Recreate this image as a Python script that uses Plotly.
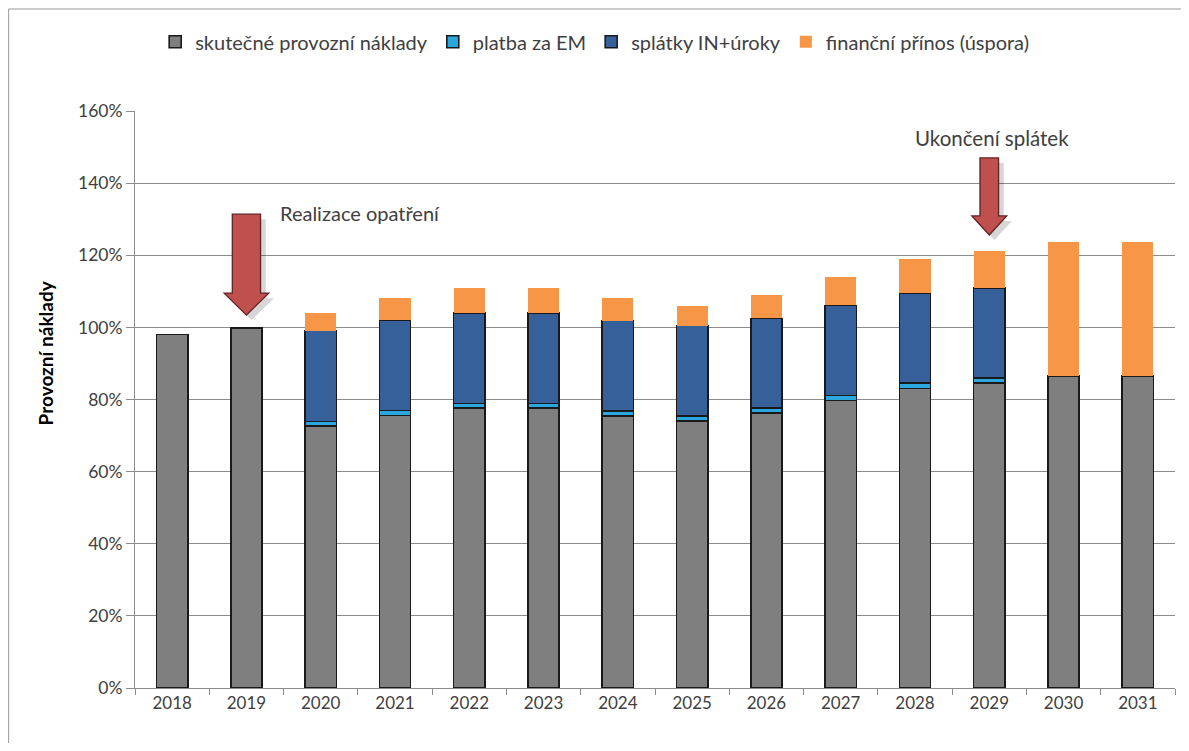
import plotly.graph_objects as go

years = ["2018", "2019", "2020", "2021", "2022", "2023", "2024", "2025",
         "2026", "2027", "2028", "2029", "2030", "2031"]
provozni = [98.0, 99.8, 72.7, 75.6, 77.6, 77.6, 75.5, 74.0, 76.2, 79.7, 83.1, 84.5, 86.6, 86.6]
platba_em = [0, 0, 1.2, 1.3, 1.3, 1.3, 1.3, 1.4, 1.4, 1.4, 1.5, 1.5, 0, 0]
splatky = [0, 0, 25.2, 25.1, 25.1, 25.1, 25.1, 25.1, 24.9, 25.0, 24.9, 24.9, 0, 0]
prinos = [0, 0, 4.8, 6.2, 6.8, 6.8, 6.2, 5.4, 6.6, 7.9, 9.4, 10.3, 37.2, 37.2]

names = ["skutečné provozní náklady", "platba za EM", "splátky IN+úroky", "finanční přínos (úspora)"]
colors = ["#7F7F7F", "#2AA7DF", "#36609A", "#F79646"]
y_ticks = [0, 20, 40, 60, 80, 100, 120, 140, 160]
y_ticklabels = [f"{v}%" for v in y_ticks]
y_title = "Provozní náklady"

font_family = "Lato, 'Open Sans', sans-serif"
text_col = "#404040"

fig = go.Figure()
series = [provozni, platba_em, splatky, prinos]
for i, (name, vals, col) in enumerate(zip(names, series, colors)):
    outline = 1.6 if i < 3 else 0
    fig.add_trace(go.Bar(
        x=years, y=vals, name=name,
        marker=dict(color=col, line=dict(color="#1a1a1a", width=outline)),
    ))

# block arrows (data coordinates: category index, percent)
def arrow_path(cx, top, head_start, tip, shaft_hw, head_hw, dx=0.0, dy=0.0):
    pts = [
        (cx - shaft_hw, top), (cx + shaft_hw, top), (cx + shaft_hw, head_start),
        (cx + head_hw, head_start), (cx, tip), (cx - head_hw, head_start),
        (cx - shaft_hw, head_start),
    ]
    return "M " + " L ".join(f"{x + dx:.4f},{y + dy:.4f}" for x, y in pts) + " Z"

arrows = [
    (1.0, 131.4, 109.5, 103.4, 0.19, 0.30),
    (11.0, 147.0, 130.9, 125.6, 0.125, 0.235),
]
shapes = []
for a in arrows:
    shapes.append(dict(type="path", xref="x", yref="y",
                       path=arrow_path(*a, dx=0.07, dy=-1.4),
                       fillcolor="rgba(0,0,0,0.16)", line=dict(width=0), layer="above"))
    shapes.append(dict(type="path", xref="x", yref="y",
                       path=arrow_path(*a),
                       fillcolor="#C0504D", line=dict(color="#5e2322", width=1.3), layer="above"))

# outer frame (left and top edges visible)
shapes.append(dict(type="line", xref="paper", yref="paper", x0=-0.1215, x1=-0.1215, y0=-0.2, y1=1.1768,
                   line=dict(color="#9a9a9a", width=1)))
shapes.append(dict(type="line", xref="paper", yref="paper", x0=-0.1215, x1=1.1, y0=1.1768, y1=1.1768,
                   line=dict(color="#9a9a9a", width=1)))

annotations = [
    dict(x=2.53, y=131.8, xref="x", yref="y", text="Realizace opatření", showarrow=False,
         font=dict(size=20, color=text_col, family=font_family)),
    dict(x=11.03, y=152.5, xref="x", yref="y", text="Ukončení splátek", showarrow=False,
         font=dict(size=20.5, color=text_col, family=font_family)),
    dict(x=-0.0865, y=0.58, xref="paper", yref="paper", text=f"<b>{y_title}</b>", showarrow=False,
         textangle=-90, xanchor="center", yanchor="middle",
         font=dict(size=19, color="#000000", family=font_family)),
]

fig.update_layout(
    barmode="stack",
    bargap=0.58,
    width=1173, height=735,
    margin=dict(l=127, r=6, t=103, b=55),
    paper_bgcolor="white", plot_bgcolor="white",
    font=dict(family=font_family, color=text_col, size=16),
    showlegend=True,
    legend=dict(orientation="h", x=0.442, xanchor="center", y=1.12, yanchor="middle",
                font=dict(size=20, color=text_col, family=font_family),
                traceorder="normal", itemwidth=30),
    shapes=shapes,
    annotations=annotations,
    xaxis=dict(type="category", showgrid=False, showline=True, linecolor="#8c8c8c", linewidth=1,
               ticks="outside", tickson="boundaries", ticklen=6, tickcolor="#8c8c8c",
               tickfont=dict(size=17, color=text_col), range=[-0.5, 13.5]),
    yaxis=dict(range=[0, 160], tickvals=y_ticks, ticktext=y_ticklabels, showgrid=True,
               gridcolor="#8c8c8c", gridwidth=1, showline=True, linecolor="#8c8c8c", linewidth=1,
               ticks="outside", ticklen=8, tickcolor="#8c8c8c", zeroline=False,
               tickfont=dict(size=17.5, color=text_col)),
)

fig.write_html("out.html")
